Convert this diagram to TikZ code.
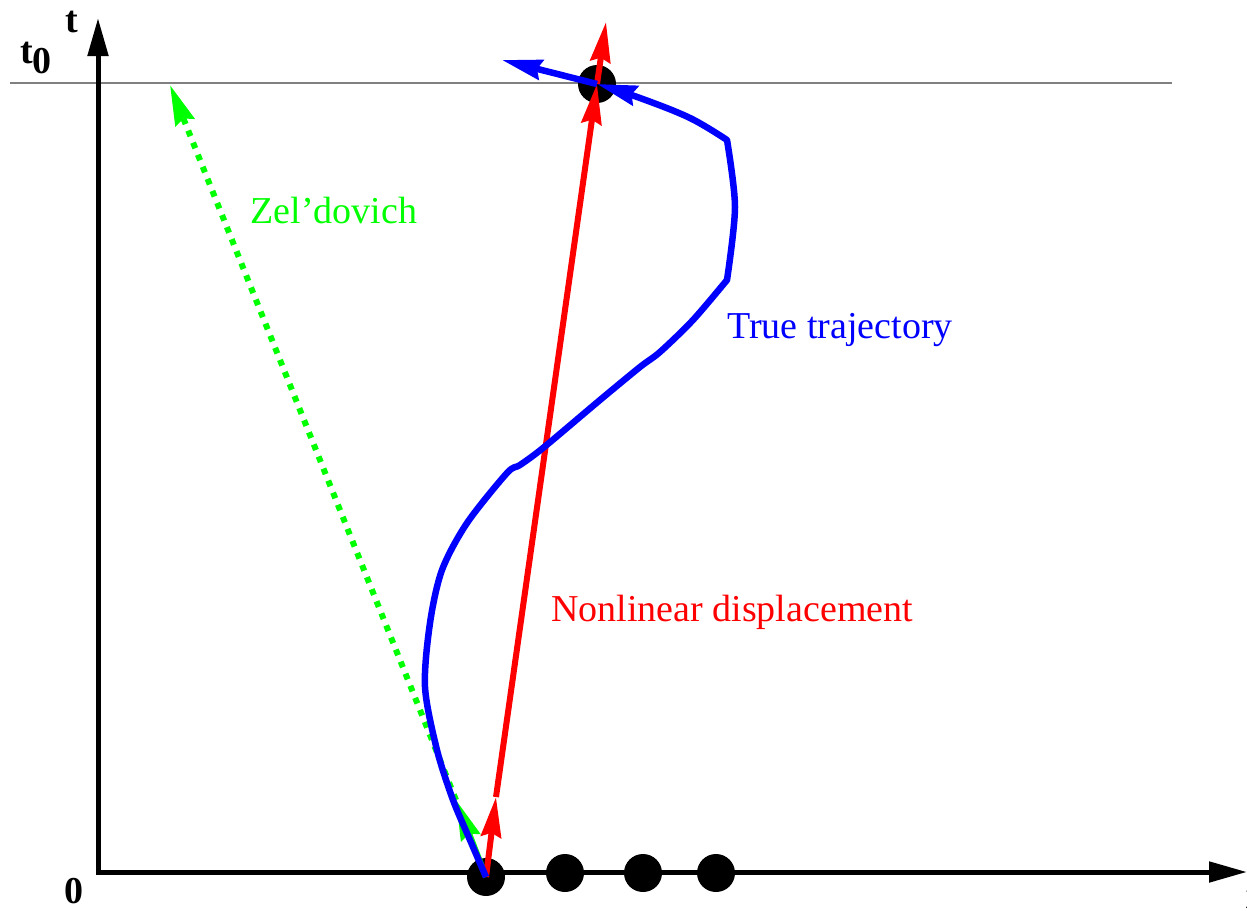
\documentclass[tikz,border=0pt]{standalone}
\usepackage{fontspec}
\setmainfont{Liberation Serif}
\usepackage{xcolor}
\definecolor{zelgreen}{HTML}{00FF00}
\definecolor{tgray}{HTML}{808080}
\usetikzlibrary{arrows.meta,positioning}
\tikzset{
  axis/.style     = {line width=5pt, {Triangle[length=38pt,width=20pt]}-{Triangle[length=38pt,width=20pt]}},
  particle/.style = {circle, fill=black, minimum size=38pt, inner sep=0pt},
  zel/.style      = {line width=6pt, draw=zelgreen, -{Stealth[length=40pt,width=20pt,inset=4pt]}},
  disp/.style     = {line width=6pt, draw=red, -{Stealth[length=40pt,width=20pt,inset=4pt]}},
  traj/.style     = {line width=6.5pt, draw=blue, line join=round, -{Stealth[length=40pt,width=20pt,inset=4pt]}},
  lbl/.style      = {font=\fontsize{38}{46}\selectfont, inner sep=0pt},
  axlbl/.style    = {font=\fontsize{38}{46}\selectfont\bfseries, inner sep=0pt}
}

\begin{document}
\begin{tikzpicture}[x=1pt, y=-1pt]
  \useasboundingbox (0,0) rectangle (1247,910);

  % axes and the t_0 line
  \coordinate (O)    at (98,872);
  \coordinate (ytip) at (98,18);
  \coordinate (xtip) at (1247,872);
  \draw[tgray, line width=1.5pt] (10,83) -- (1172,83);
  \draw[axis] (ytip) -- (O) -- (xtip);
  \node[axlbl] (tlab)  at (72,22)   {t};
  \node[axlbl] (t0lab) at (36,58)   {t\raisebox{-10pt}{0}};
  \node[axlbl] (olab)  at (74,891)  {0};
  \node[axlbl] (xlab)  at (1256,900) {x};

  % particles
  \node[particle] (p0) at (486,877) {};
  \node[particle] (p1) at (565,873) {};
  \node[particle] (p2) at (643,873) {};
  \node[particle] (p3) at (716,873) {};
  \node[particle] (pt) at (597,84)  {};

  % Zel'dovich
  \coordinate (zmid) at (456,800);
  \coordinate (ztip) at (170,85);
  \draw[zel] (p0.center) -- (zmid);
  \draw[zel, dash pattern=on 6pt off 7pt] (zmid) -- (ztip);
  \node[lbl, text=zelgreen] (zlabel) at (334,210) {Zel'dovich};

  % nonlinear displacement
  \coordinate (dmid) at (496,797);
  \coordinate (dtip) at (606,22);
  \draw[disp] (p0.center) -- (dmid);
  \draw[disp] (dmid) -- (pt.center);
  \draw[disp] (pt.center) -- (dtip);
  \node[lbl, text=red] (nlabel) at (732,612) {Nonlinear displacement};

  % true trajectory
  \coordinate (btip) at (502,60);
  \draw[traj] plot[smooth, tension=0.5] coordinates {(p0.center) (470,840) (453,800) (437,750)
      (425,687) (430,623) (442,570) (467,523) (507,473) (520,465) (543,448) (600,400)
      (640,367) (660,352) (693,320) (727,280)}
    -- plot[smooth, tension=0.5] coordinates {(727,280) (735,207) (727,140)}
    -- plot[smooth, tension=0.6] coordinates {(727,140) (690,118) (640,98) (pt.center)};
  \draw[traj] (pt.center) -- (btip);
  \node[lbl, text=blue] (tlabel) at (840,330) {True trajectory};
\end{tikzpicture}
\end{document}
